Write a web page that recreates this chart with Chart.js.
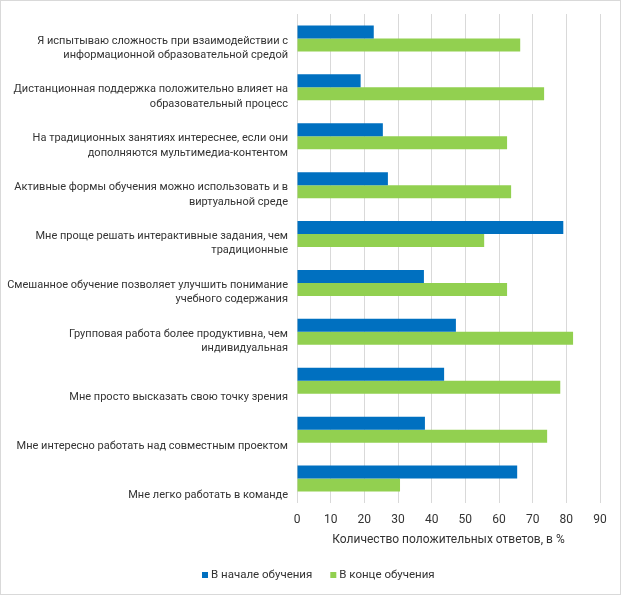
<!DOCTYPE html>
<html>
<head>
<meta charset="utf-8">
<script src="https://cdn.jsdelivr.net/npm/chart.js@4/dist/chart.umd.min.js"></script>
<style>
  body { margin: 0; background: #fff; }
</style>
</head>
<body>
<canvas id="chart" width="621" height="595"></canvas>
<script>
// ================= DATA =================
// single-line labels get an empty first line so all labels sit the same way
const categories = [
  ["Я испытываю сложность при взаимодействии с", "информационной образовательной средой"],
  ["Дистанционная поддержка положительно влияет на", "образовательный процесс"],
  ["На традиционных занятиях интереснее, если они", "дополняются мультимедиа-контентом"],
  ["Активные формы обучения можно использовать и в", "виртуальной среде"],
  ["Мне проще решать интерактивные задания, чем", "традиционные"],
  ["Смешанное обучение позволяет улучшить понимание", "учебного содержания"],
  ["Групповая работа более продуктивна, чем", "индивидуальная"],
  ["", "Мне просто высказать свою точку зрения"],
  ["", "Мне интересно работать над совместным проектом"],
  ["", "Мне легко работать в команде"]
];

const seriesNames = ["В начале обучения", "В конце обучения"];
const startValues = [22.8, 18.9, 25.5, 27.0, 79.1, 37.7, 47.2, 43.7, 38.0, 65.4];
const endValues = [66.3, 73.4, 62.4, 63.6, 55.6, 62.4, 82.0, 78.2, 74.3, 30.6];

const xTicks = [0, 10, 20, 30, 40, 50, 60, 70, 80, 90];
const axisTitle = "Количество положительных ответов, в %";

const colors = ["#0070C0", "#92D050"];
const textColor = "#333333";
const fontFamily = "Roboto, 'Open Sans', sans-serif";

// ================= PLUGINS =================
const frame = {
  id: "frame",
  beforeDraw(chart) {
    const c = chart.ctx;
    c.save();
    c.fillStyle = "#fff";
    c.fillRect(0, 0, chart.width, chart.height);
    c.strokeStyle = "#D9D9D9";
    c.lineWidth = 1;
    c.strokeRect(0.5, 0.5, chart.width - 1, chart.height - 1);
    c.restore();
  }
};

const bottomLegend = {
  id: "bottomLegend",
  afterDraw(chart) {
    const c = chart.ctx;
    c.save();
    c.font = "11.5px " + fontFamily;
    c.textBaseline = "middle";
    let x = 202;
    const y = 575;
    chart.data.datasets.forEach(ds => {
      c.fillStyle = ds.backgroundColor;
      c.fillRect(x, y - 3, 6, 6);
      c.fillStyle = textColor;
      c.fillText(ds.label, x + 9, y);
      x += 9 + c.measureText(ds.label).width + 18;
    });
    c.restore();
  }
};

// ================= CHART =================
const ctx = document.getElementById("chart").getContext("2d");

new Chart(ctx, {
  type: "bar",
  data: {
    labels: categories,
    datasets: [
      { label: seriesNames[0], data: startValues, backgroundColor: colors[0] },
      { label: seriesNames[1], data: endValues, backgroundColor: colors[1] }
    ]
  },
  options: {
    indexAxis: "y",
    responsive: false,
    animation: false,
    categoryPercentage: 0.532,
    barPercentage: 1,
    layout: { padding: { left: 0, right: 21, top: 14, bottom: 47 } },
    plugins: {
      legend: { display: false },
      tooltip: { enabled: false }
    },
    scales: {
      x: {
        min: 0,
        max: 90,
        afterBuildTicks: s => { s.ticks = xTicks.map(v => ({ value: v })); },
        afterFit: s => {
          s.height = 45;
          s.paddingLeft = 0;
          s.paddingRight = 0;
        },
        grid: { color: "#D9D9D9", drawTicks: false },
        border: { display: false },
        ticks: {
          padding: 10,
          color: textColor,
          font: { family: fontFamily, size: 12 }
        },
        title: {
          display: true,
          text: axisTitle,
          color: textColor,
          font: { family: fontFamily, size: 12 },
          padding: { top: 0, bottom: 1 }
        }
      },
      y: {
        afterFit: s => {
          s.width = 297;
          s.paddingTop = 0;
          s.paddingBottom = 0;
        },
        grid: { display: false, drawTicks: false },
        border: { display: false },
        ticks: {
          padding: 9,
          labelOffset: 9.5,
          autoSkip: false,
          color: textColor,
          font: { family: fontFamily, size: 11, lineHeight: 1.3 }
        }
      }
    }
  },
  plugins: [frame, bottomLegend]
});
</script>
</body>
</html>
